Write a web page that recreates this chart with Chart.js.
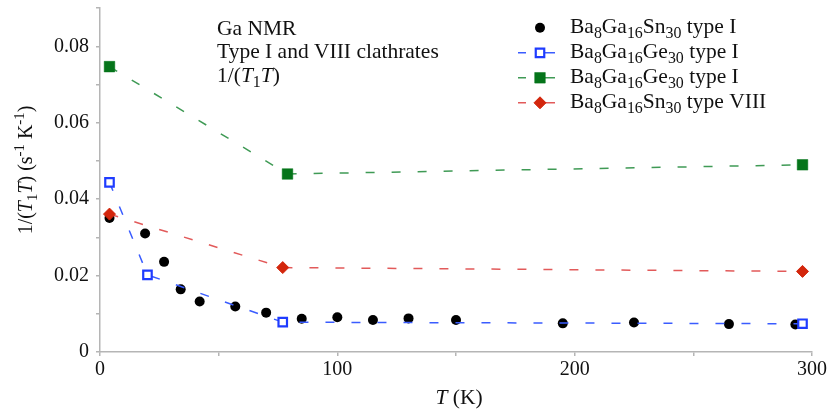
<!DOCTYPE html>
<html><head><meta charset="utf-8">
<script src="https://cdn.jsdelivr.net/npm/chart.js@4/dist/chart.umd.min.js"></script>
<style>html,body{margin:0;padding:0;background:#fff}#wrap{width:830px;height:410px}</style>
</head><body><div id="wrap"><canvas id="c" width="830" height="410"></canvas></div>
<script>
// ---- data ----
const snType1T    = [4, 19, 27, 34, 42, 57, 70, 85, 100, 115, 130, 150, 195, 225, 265, 293];
const snType1Rate = [0.0351, 0.0310, 0.0236, 0.0164, 0.0132, 0.0119, 0.0103, 0.0087, 0.0091, 0.0084, 0.0088, 0.0084, 0.0075, 0.0077, 0.0073, 0.0072];
const geOpenT     = [4, 20, 77, 296];
const geOpenRate  = [0.0444, 0.0202, 0.0078, 0.0074];
const geFilledT   = [4, 79, 296];
const geFilledRate= [0.0747, 0.0466, 0.0490];
const sn8T        = [4, 77, 296];
const sn8Rate     = [0.0361, 0.0221, 0.0211];
const seriesNames = ['Ba8Ga16Sn30 type I', 'Ba8Ga16Ge30 type I', 'Ba8Ga16Ge30 type I', 'Ba8Ga16Sn30 type VIII'];
const xMajorTicks = [0, 100, 200, 300];
const yMajorTicks = [0, 0.02, 0.04, 0.06, 0.08];
const noteLines   = ['Ga NMR', 'Type I and VIII clathrates'];

const FAMILY = '"Liberation Serif", "Times New Roman", serif';
const pts = (xs, ys) => xs.map((x, i) => ({x: x, y: ys[i]}));

const COLORS = {
  black: '#000000',
  blue: '#1f3cff', blueLine: '#3a5cff',
  green: '#05741a', greenLine: '#3f9a55',
  red: '#d3260c', redLine: '#e25a5a'
};

function drawRich(ctx, x, y, segs, size, color, align) {
  const parts = segs.map(s => {
    const small = s.sub || s.sup;
    const fs = small ? size * 0.74 : size;
    const font = (s.it ? 'italic ' : '') + fs + 'px ' + FAMILY;
    ctx.font = font;
    return {t: s.t, font, w: ctx.measureText(s.t).width, dy: s.sub ? size * 0.24 : (s.sup ? -size * 0.38 : 0)};
  });
  const total = parts.reduce((a, p) => a + p.w, 0);
  let cx = align === 'center' ? x - total / 2 : x;
  ctx.fillStyle = color;
  ctx.textBaseline = 'alphabetic';
  ctx.textAlign = 'left';
  for (const p of parts) { ctx.font = p.font; ctx.fillText(p.t, cx, y + p.dy); cx += p.w; }
}
function formulaSegs(name) {
  const i = name.indexOf(' ');
  const formula = name.slice(0, i), rest = name.slice(i);
  const segs = [];
  const re = /(\d+|\D+)/g; let m;
  while ((m = re.exec(formula))) segs.push(/\d/.test(m[1]) ? {t: m[1], sub: true} : {t: m[1]});
  segs.push({t: rest});
  return segs;
}

const textPlugin = {
  id: 'texts',
  afterDraw(chart) {
    const ctx = chart.ctx;
    ctx.save();
    // annotation
    drawRich(ctx, 217, 35, [{t: noteLines[0]}], 21.5, '#111');
    drawRich(ctx, 217, 58.3, [{t: noteLines[1]}], 21.5, '#111');
    drawRich(ctx, 217, 81.7, [{t: '1/('}, {t: 'T', it: true}, {t: '1', sub: true}, {t: 'T', it: true}, {t: ')'}], 21.5, '#111');
    // x title
    drawRich(ctx, 459, 404, [{t: 'T', it: true}, {t: ' (K)'}], 21.5, '#111', 'center');
    // y title
    ctx.save();
    ctx.translate(32, 170);
    ctx.rotate(-Math.PI / 2);
    drawRich(ctx, 0, 0, [{t: '1/('}, {t: 'T', it: true}, {t: '1', sub: true}, {t: 'T', it: true}, {t: ') (s'}, {t: '-1', sup: true}, {t: ' K'}, {t: '-1', sup: true}, {t: ')'}], 20, '#111', 'center');
    ctx.restore();
    // legend
    const rows = [33.3, 58.3, 83.3, 108.3];
    const mx = 540;
    rows.forEach((b, i) => {
      const my = b - 5.5;
      const ds = chart.data.datasets[i];
      if (ds.showLine) {
        ctx.strokeStyle = ds.borderColor; ctx.lineWidth = 1.5; ctx.setLineDash([]);
        ctx.beginPath(); ctx.moveTo(518, my); ctx.lineTo(526, my); ctx.moveTo(545, my); ctx.lineTo(555, my); ctx.stroke();
      }
      ctx.fillStyle = ds.pointBackgroundColor; ctx.strokeStyle = ds.pointBorderColor; ctx.lineWidth = ds.pointBorderWidth;
      ctx.beginPath();
      if (ds.pointStyle === 'circle') { ctx.arc(mx, my, 5, 0, Math.PI * 2); ctx.fill(); }
      else if (ds.pointStyle === 'rect') { const h = ds.pointRadius * Math.SQRT1_2; ctx.rect(mx - h, my - h, 2 * h, 2 * h); ctx.fill(); ctx.stroke(); }
      else { const r = ds.pointRadius; ctx.moveTo(mx, my - r); ctx.lineTo(mx + r, my); ctx.lineTo(mx, my + r); ctx.lineTo(mx - r, my); ctx.closePath(); ctx.fill(); ctx.stroke(); }
      drawRich(ctx, 570, b, formulaSegs(seriesNames[i]), 21.5, '#111');
    });
    ctx.restore();
  }
};

new Chart(document.getElementById('c'), {
  type: 'scatter',
  data: {
    datasets: [
      {label: seriesNames[0], data: pts(snType1T, snType1Rate), showLine: false, order: 4,
       pointStyle: 'circle', pointRadius: 5, pointBackgroundColor: COLORS.black, pointBorderColor: COLORS.black, pointBorderWidth: 0},
      {label: seriesNames[1], data: pts(geOpenT, geOpenRate), showLine: true, order: 1,
       borderColor: COLORS.blueLine, borderWidth: 1.5, borderDash: [9, 17],
       pointStyle: 'rect', pointRadius: 6, pointBackgroundColor: '#ffffff', pointBorderColor: COLORS.blue, pointBorderWidth: 2.2},
      {label: seriesNames[2], data: pts(geFilledT, geFilledRate), showLine: true, order: 2,
       borderColor: COLORS.greenLine, borderWidth: 1.5, borderDash: [9, 17],
       pointStyle: 'rect', pointRadius: 7.5, pointBackgroundColor: COLORS.green, pointBorderColor: COLORS.green, pointBorderWidth: 0.5},
      {label: seriesNames[3], data: pts(sn8T, sn8Rate), showLine: true, order: 3,
       borderColor: COLORS.redLine, borderWidth: 1.5, borderDash: [9, 17],
       pointStyle: 'rectRot', pointRadius: 6, pointBackgroundColor: COLORS.red, pointBorderColor: COLORS.red, pointBorderWidth: 1}
    ]
  },
  options: {
    responsive: false,
    animation: false,
    events: [],
    layout: {padding: {left: 0, right: 18, top: 0, bottom: 0}},
    plugins: {legend: {display: false}, tooltip: {enabled: false}},
    scales: {
      x: {
        type: 'linear', min: 0, max: 300,
        afterFit(s) { s.height = 58; },
        ticks: {stepSize: 50, maxRotation: 0, autoSkip: false, padding: 2, color: '#111',
          font: {family: FAMILY, size: 20},
          callback: v => xMajorTicks.includes(Math.round(v)) ? String(Math.round(v)) : ''},
        grid: {drawOnChartArea: false, drawTicks: true, tickLength: 4, color: '#b5b5b5', lineWidth: 1.5},
        border: {color: '#b5b5b5', width: 1.5}
      },
      y: {
        type: 'linear', min: 0, max: 0.09,
        afterFit(s) { s.width = 100; },
        ticks: {stepSize: 0.01, autoSkip: false, padding: 7, color: '#111',
          font: {family: FAMILY, size: 20, lineHeight: 0.02},
          callback: v => {
            const k = Math.round(v * 100);
            if (!yMajorTicks.some(t => Math.round(t * 100) === k)) return '';
            return k === 0 ? '0' : (k / 100).toFixed(2);
          }},
        grid: {drawOnChartArea: false, drawTicks: true, tickLength: 4, color: '#b5b5b5', lineWidth: 1.5},
        border: {color: '#b5b5b5', width: 1.5}
      }
    }
  },
  plugins: [textPlugin]
});
</script>
</body></html>
